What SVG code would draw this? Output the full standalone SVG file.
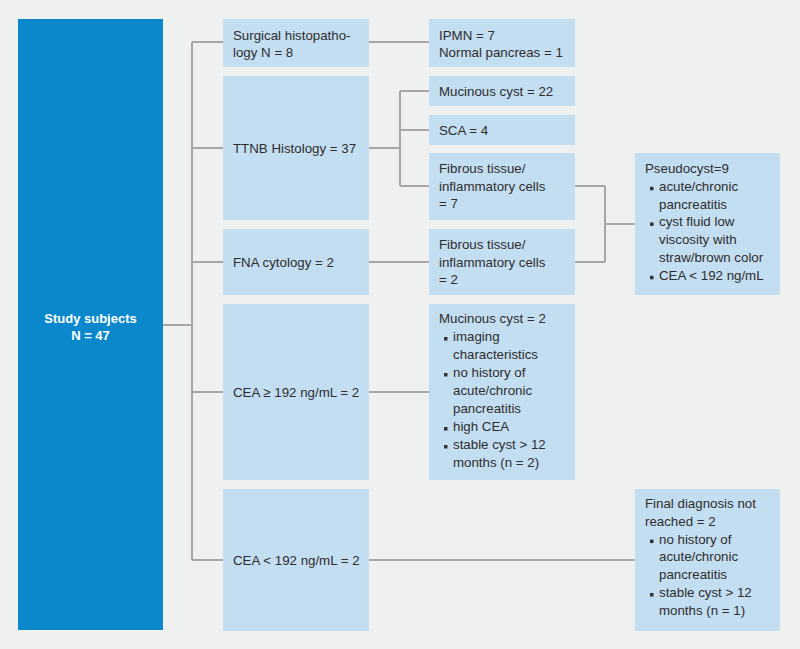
<svg xmlns="http://www.w3.org/2000/svg" width="800" height="649" viewBox="0 0 800 649">
<style>
.bg{fill:#eff1f1}
.main{fill:#0a88cb}
.box{fill:#c3ddf1}
.t{font-family:"Liberation Sans",Arial,sans-serif;font-size:13.3px;fill:#2e2e2e}
.w{font-family:"Liberation Sans",Arial,sans-serif;font-size:13px;font-weight:bold;fill:#fff;text-anchor:middle}
.c{fill:none;stroke:#a6a6a6;stroke-width:2}
.b{fill:#333}
</style>
<defs>
<rect id="bul" width="3.5" height="3.5" class="b"/>
</defs>
<rect class="bg" x="0" y="0" width="800" height="649"/>
<g id="connectors">
<path class="c" d="M163 325H192M192 42V560M192 42H223M192 148H223M192 262H223M192 392H223M192 560H223"/>
<path class="c" d="M369 42H429"/>
<path class="c" d="M369 148H400M400 91V186M400 91H429M400 130H429M400 186H429"/>
<path class="c" d="M575 186H605M605 186V262M575 262H605M605 224H635"/>
<path class="c" d="M369 262H429"/>
<path class="c" d="M369 392H429"/>
<path class="c" d="M369 560H635"/>
</g>
<g id="study">
<rect class="main" x="18" y="19" width="145" height="611"/>
<text class="w" x="90.5" y="323">Study subjects</text>
<text class="w" x="90.5" y="340">N = 47</text>
</g>
<g id="surgical">
<rect class="box" x="223" y="19" width="146" height="48"/>
<text class="t" x="233" y="39.5">Surgical histopatho-</text>
<text class="t" x="233" y="57">logy N = 8</text>
</g>
<g id="ttnb">
<rect class="box" x="223" y="76" width="146" height="144"/>
<text class="t" x="233" y="152.5">TTNB Histology = 37</text>
</g>
<g id="fna">
<rect class="box" x="223" y="229" width="146" height="66"/>
<text class="t" x="233" y="266.5">FNA cytology = 2</text>
</g>
<g id="cea-high">
<rect class="box" x="223" y="304" width="146" height="176"/>
<text class="t" x="233" y="396.5">CEA ≥ 192 ng/mL = 2</text>
</g>
<g id="cea-low">
<rect class="box" x="223" y="489" width="146" height="142"/>
<text class="t" x="233" y="564.5">CEA &lt; 192 ng/mL = 2</text>
</g>
<g id="ipmn">
<rect class="box" x="429" y="19" width="146" height="48"/>
<text class="t" x="439" y="39.5">IPMN = 7</text>
<text class="t" x="439" y="57">Normal pancreas = 1</text>
</g>
<g id="mucinous22">
<rect class="box" x="429" y="76" width="146" height="30"/>
<text class="t" x="439" y="95.5">Mucinous cyst = 22</text>
</g>
<g id="sca">
<rect class="box" x="429" y="115" width="146" height="30"/>
<text class="t" x="439" y="134.5">SCA = 4</text>
</g>
<g id="fibrous7">
<rect class="box" x="429" y="153" width="146" height="67"/>
<text class="t" x="439" y="173">Fibrous tissue/</text>
<text class="t" x="439" y="190.5">inflammatory cells</text>
<text class="t" x="439" y="208">= 7</text>
</g>
<g id="fibrous2">
<rect class="box" x="429" y="229" width="146" height="66"/>
<text class="t" x="439" y="249">Fibrous tissue/</text>
<text class="t" x="439" y="266.5">inflammatory cells</text>
<text class="t" x="439" y="284">= 2</text>
</g>
<g id="mucinous2">
<rect class="box" x="429" y="304" width="146" height="176"/>
<text class="t" x="439" y="323">Mucinous cyst = 2</text>
<use href="#bul" x="444" y="337"/>
<text class="t" x="453" y="341">imaging</text>
<text class="t" x="453" y="359">characteristics</text>
<use href="#bul" x="444" y="373"/>
<text class="t" x="453" y="377">no history of</text>
<text class="t" x="453" y="395">acute/chronic</text>
<text class="t" x="453" y="413">pancreatitis</text>
<use href="#bul" x="444" y="427"/>
<text class="t" x="453" y="431">high CEA</text>
<use href="#bul" x="444" y="445"/>
<text class="t" x="453" y="449">stable cyst &gt; 12</text>
<text class="t" x="453" y="467">months (n = 2)</text>
</g>
<g id="pseudocyst">
<rect class="box" x="635" y="153" width="145" height="142"/>
<text class="t" x="645" y="173">Pseudocyst=9</text>
<use href="#bul" x="650" y="186.8"/>
<text class="t" x="659" y="190.8">acute/chronic</text>
<text class="t" x="659" y="208.6">pancreatitis</text>
<use href="#bul" x="650" y="222.4"/>
<text class="t" x="659" y="226.4">cyst fluid low</text>
<text class="t" x="659" y="244.2">viscosity with</text>
<text class="t" x="659" y="262">straw/brown color</text>
<use href="#bul" x="650" y="275.8"/>
<text class="t" x="659" y="279.8">CEA &lt; 192 ng/mL</text>
</g>
<g id="final">
<rect class="box" x="635" y="489" width="145" height="142"/>
<text class="t" x="645" y="508">Final diagnosis not</text>
<text class="t" x="645" y="525.8">reached = 2</text>
<use href="#bul" x="650" y="539.6"/>
<text class="t" x="659" y="543.6">no history of</text>
<text class="t" x="659" y="561.4">acute/chronic</text>
<text class="t" x="659" y="579.2">pancreatitis</text>
<use href="#bul" x="650" y="593"/>
<text class="t" x="659" y="597">stable cyst &gt; 12</text>
<text class="t" x="659" y="614.8">months (n = 1)</text>
</g>
</svg>
